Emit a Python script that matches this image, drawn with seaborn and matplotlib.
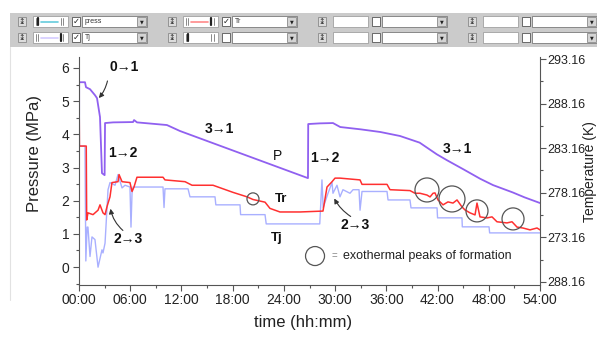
import numpy as np
import pandas as pd
import matplotlib
matplotlib.use('Agg')
import matplotlib.pyplot as plt
import seaborn as sns
from matplotlib.patches import Rectangle
from matplotlib.lines import Line2D
from matplotlib.ticker import FixedLocator, MultipleLocator

# --- data (time in hours) ---
p_time = [0.0, 0.02, 0.7, 0.82, 1.29, 1.87, 2.11, 2.46, 2.69, 3.0, 3.05, 4.0, 6.33, 6.45, 6.8,
          10.3, 11.83, 26.82, 26.85, 28.2, 29.75, 30.6, 33.0, 35.3, 37.6, 39.9, 41.9, 43.1,
          45.0, 47.0, 48.5, 50.8, 52.2, 54.0]
p_mpa = [-0.45, 5.57, 5.57, 5.42, 5.36, 5.18, 5.09, 4.52, 2.83, 2.77, 4.34, 4.36, 4.37, 4.43, 4.36,
         4.28, 4.1, 2.68, 4.31, 4.33, 4.34, 4.22, 4.15, 4.07, 3.95, 3.75, 3.4, 3.22,
         2.95, 2.66, 2.47, 2.25, 2.1, 1.93]

press_time = [0.0, 0.0]
press_mpa = [0.12, 1.33]

tr_time = [0.0, 0.05, 0.85, 0.9, 1.05, 1.64, 2.23, 2.46, 2.81, 3.05, 3.28, 3.63, 3.86, 4.57, 4.69,
           5.04, 5.97, 6.21, 6.44, 6.79, 9.84, 10.07, 12.42, 13.24, 15.7, 18.04, 19.68, 20.38,
           21.79, 22.37, 23.54, 25.89, 28.58, 29.05, 29.64, 29.99, 30.57, 32.92, 33.15, 36.08,
           36.43, 38.77, 39.36, 39.94, 40.76, 41.12, 41.47, 41.7, 42.05, 42.29, 42.64, 43.22,
           43.81, 44.28, 44.86, 45.21, 45.8, 46.39, 46.62, 46.97, 47.79, 48.38, 48.96, 50.13,
           50.72, 51.31, 52.0, 52.83, 53.65, 54.0]
tr_k = [290.6, 283.4, 283.4, 275.1, 275.9, 275.7, 276.2, 276.8, 275.9, 275.7, 276.6, 277.7, 279.3,
        279.4, 280.2, 279.4, 279.3, 278.3, 278.8, 279.9, 279.9, 279.6, 279.4, 279.0, 279.0, 278.2,
        277.7, 277.4, 277.1, 276.4, 276.0, 276.0, 276.1, 278.8, 279.4, 279.8, 279.8, 279.6, 279.1,
        279.1, 278.5, 278.4, 278.1, 278.1, 277.9, 277.69, 278.1, 278.14, 277.35, 277.13, 276.8,
        277.13, 277.0, 277.35, 276.57, 276.23, 275.9, 275.67, 277.0, 275.45, 275.33, 275.45,
        274.9, 274.77, 274.9, 274.3, 274.2, 273.99, 274.2, 273.99]

tj_time = [0.0, 0.7, 0.8, 0.95, 1.05, 1.29, 1.52, 1.87, 2.23, 2.69, 2.81, 3.05, 3.4, 3.63, 4.22,
           4.57, 5.04, 5.39, 5.97, 6.09, 6.21, 6.33, 9.84, 9.96, 10.07, 12.77, 13.0, 15.93,
           16.03, 18.86, 18.93, 21.79, 21.93, 28.2, 28.46, 28.6, 29.17, 29.64, 29.75, 30.22,
           30.57, 30.92, 31.74, 32.1, 32.8, 32.92, 33.15, 36.08, 36.2, 38.77, 38.89, 41.94,
           42.0, 44.86, 44.9, 48.03, 48.1, 54.0]
tj_k = [283.4, 283.4, 270.5, 274.3, 274.3, 271.0, 273.2, 272.9, 269.8, 271.75, 271.4, 272.5,
        278.5, 279.3, 279.0, 280.2, 278.7, 279.0, 278.8, 274.3, 278.1, 278.8, 278.8, 276.5,
        278.6, 278.6, 277.7, 277.7, 276.8, 276.8, 275.7, 275.7, 274.66, 274.66, 279.6, 276.5,
        278.1, 279.3, 278.1, 279.0, 277.7, 278.5, 278.1, 278.5, 278.5, 276.2, 278.3, 278.3,
        277.35, 277.35, 276.46, 276.46, 275.34, 275.34, 274.33, 274.33, 273.65, 273.65]

peak_time = [20.38, 40.76, 43.69, 46.62, 50.84]
peak_k = [277.47, 278.47, 277.46, 276.12, 275.22]
peak_radius_px = [6, 12, 13, 11, 11]

hour_ticks = list(range(0, 55, 6))
hour_labels = [f'{h:02d}:00' for h in hour_ticks]
temp_ticks = [293.16, 288.16, 283.16, 278.16, 273.16, 268.16]
temp_labels = ['293.16', '288.16', '283.16', '278.16', '273.16', '288.16']

# --- figure ---
sns.set_theme(style='white')
plt.rcParams['font.family'] = ['Liberation Sans', 'DejaVu Sans']

W, H = 597, 338
fig = plt.figure(figsize=(W / 100, H / 100), dpi=100)
fig.patch.set_facecolor('white')


def px_rect(x, y, w, h, fc, ec='none', lw=0.6):
    fig.add_artist(Rectangle((x / W, 1 - (y + h) / H), w / W, h / H, transform=fig.transFigure,
                             facecolor=fc, edgecolor=ec, linewidth=lw))


def px_line(x1, y1, x2, y2, color, lw=0.8):
    fig.add_artist(Line2D([x1 / W, x2 / W], [1 - y1 / H, 1 - y2 / H], transform=fig.transFigure,
                          color=color, linewidth=lw))


def px_text(x, y, s, **kw):
    fig.text(x / W, 1 - y / H, s, **kw)


# toolbar strip
px_rect(10, 13, 587, 34, '#cbcbcb')
px_line(10, 47, 10, 300, '#e2e2e2', 0.8)

rows = {(0, 0): ('#66ccdd', 'L', True, 'press'),
        (0, 1): ('#d4ccff', 'R', True, 'Tj'),
        (1, 0): ('#ff8a8a', 'R', True, 'Tr'),
        (1, 1): (None, 'L', False, '')}
for g in range(4):
    ox = g * 150
    for r in range(2):
        y0 = 16 + r * 16
        px_rect(ox + 18, y0 + 1, 8, 9, '#dcdcdc', ec='#8a8a8a')
        px_text(ox + 22, y0 + 5.8, '↨', fontsize=5.5, ha='center', va='center',
                family=['DejaVu Sans'], color='#333333')
        px_rect(ox + 33, y0, 35, 11, 'white', ec='#a0a0a0')
        spec = rows.get((g, r))
        if spec is not None:
            col, thick, checked, label = spec
            for xm in (35.5, 38, 61, 63.5):
                heavy = (thick == 'L' and xm == 38) or (thick == 'R' and xm == 61)
                px_line(ox + xm, y0 + 2, ox + xm, y0 + 9, '#222222' if heavy else '#777777',
                        1.6 if heavy else 0.6)
            if col:
                px_line(ox + 41, y0 + 5.5, ox + 58, y0 + 5.5, col, 1.2)
        else:
            checked, label = False, ''
        px_rect(ox + 72, y0 + 1, 8, 9, 'white', ec='#555555')
        if checked:
            px_text(ox + 76, y0 + 5.8, '✓', fontsize=6, ha='center', va='center',
                    family=['DejaVu Sans'], color='#222222')
        px_rect(ox + 82, y0, 65, 11, 'white', ec='#7a7a7a')
        px_rect(ox + 137, y0 + 1, 9, 9, '#d4d4d4', ec='#8a8a8a')
        px_text(ox + 141.5, y0 + 5.8, '▼', fontsize=3.5, ha='center', va='center',
                family=['DejaVu Sans'], color='#222222')
        if label:
            px_text(ox + 85, y0 + 5.8, label, fontsize=5, ha='left', va='center', color='#333333')

# axes
ax = fig.add_axes([79 / W, 1 - 285 / H, 461 / W, 228 / H])
ax2 = ax.twinx()
ax.set_zorder(ax2.get_zorder() + 1)
ax.patch.set_visible(False)

sns.lineplot(x=tj_time, y=tj_k, ax=ax2, color='#a9b0ff', linewidth=1.0, estimator=None, sort=False)
sns.lineplot(x=tr_time, y=tr_k, ax=ax2, color='#ff3030', linewidth=1.1, estimator=None, sort=False)
sns.lineplot(x=p_time, y=p_mpa, ax=ax, color='#9060f0', linewidth=1.3, estimator=None, sort=False)
sns.lineplot(x=press_time, y=press_mpa, ax=ax, color='#2a8070', linewidth=1.3, estimator=None,
             sort=False)

ax2.scatter(peak_time, peak_k, s=[(1.44 * r) ** 2 for r in peak_radius_px], facecolors='none',
            edgecolors='#555555', linewidths=0.9, zorder=5)

ax.set_xlim(0, 54)
ax.set_ylim(-0.54, 6.33)
ax2.set_ylim(267.8, 293.4)

ax.xaxis.set_major_locator(FixedLocator(hour_ticks))
ax.set_xticklabels(hour_labels)
ax.xaxis.set_minor_locator(MultipleLocator(3))
ax.yaxis.set_major_locator(MultipleLocator(1))
ax.yaxis.set_minor_locator(MultipleLocator(0.5))
ax2.yaxis.set_major_locator(FixedLocator(temp_ticks))
ax2.set_yticklabels(temp_labels)
ax2.yaxis.set_minor_locator(FixedLocator([t + 2.5 for t in temp_ticks[1:]]))

for a in (ax, ax2):
    a.set_xlabel('')
    a.set_ylabel('')
    a.spines['top'].set_visible(False)
    for s in a.spines.values():
        s.set_color('#555555')
        s.set_linewidth(0.8)
    a.tick_params(which='both', direction='out', colors='#555555', labelcolor='#222222',
                  labelsize=10, width=0.8)
    a.tick_params(which='major', length=4)
    a.tick_params(which='minor', length=2.5)
ax.spines['right'].set_visible(False)
ax.tick_params(axis='x', which='both', bottom=True, pad=2)
ax.tick_params(axis='y', which='both', left=True, pad=3)
ax2.tick_params(axis='y', which='both', right=True, pad=1.5, labelsize=9)
ax2.spines['left'].set_visible(False)
ax2.spines['bottom'].set_visible(False)
ax2.grid(False)
ax.grid(False)

fig.text(35 / W, 1 - 154 / H, 'Pressure (MPa)', rotation=90, ha='center', va='center',
         fontsize=12, color='#222222')
fig.text(597 / W, 1 - 172 / H, 'Temperature (K)', rotation=90, ha='right', va='center',
         fontsize=10, color='#222222')
fig.text(303 / W, 1 - 323 / H, 'time (hh:mm)', ha='center', va='center', fontsize=12,
         color='#222222')

# annotations (time, MPa)
bold = dict(fontsize=10, fontweight='bold', ha='center', va='center', color='#111111',
            family=['Liberation Sans', 'DejaVu Sans'])
ax.text(5.27, 6.02, '0→1', **bold)
ax.text(5.15, 3.43, '1→2', **bold)
ax.text(5.74, 0.84, '2→3', **bold)
ax.text(16.5, 4.16, '3→1', **bold)
ax.text(28.8, 3.28, '1→2', **bold)
ax.text(32.3, 1.27, '2→3', **bold)
ax.text(44.3, 3.55, '3→1', **bold)
ax.text(23.2, 3.34, 'P', fontsize=10, ha='center', va='center', color='#111111')
ax.text(23.66, 2.05, 'Tr', fontsize=9.5, fontweight='bold', ha='center', va='center', color='#111111')
ax.text(23.2, 0.87, 'Tj', fontsize=9.5, fontweight='bold', ha='center', va='center', color='#111111')

arrow = dict(arrowstyle='-|>', color='#333333', lw=0.8, mutation_scale=7)
ax.annotate('', xy=(2.11, 5.03), xytext=(3.4, 5.69),
            arrowprops=dict(connectionstyle='arc3,rad=-0.15', **arrow))
ax.annotate('', xy=(3.63, 1.84), xytext=(5.39, 1.05),
            arrowprops=dict(connectionstyle='arc3,rad=-0.2', **arrow))
ax.annotate('', xy=(29.75, 2.14), xytext=(32.1, 1.48),
            arrowprops=dict(connectionstyle='arc3,rad=-0.15', **arrow))

# circle legend
ax.scatter([0.512], [0.127], transform=ax.transAxes, s=(1.44 * 9.5) ** 2, facecolors='none',
           edgecolors='#555555', linewidths=0.9, clip_on=False)
ax.text(0.555, 0.127, '=', transform=ax.transAxes, fontsize=7, color='#888888',
        ha='center', va='center')
ax.text(0.573, 0.127, 'exothermal peaks of formation', transform=ax.transAxes, fontsize=9,
        color='#222222', ha='left', va='center')

fig.savefig('out.png', dpi=100)
